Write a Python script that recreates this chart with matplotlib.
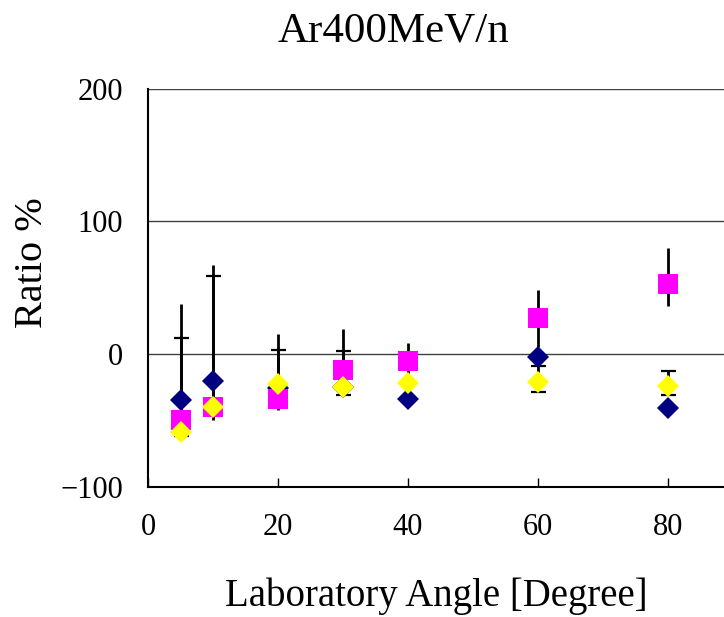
import matplotlib
matplotlib.use("Agg")
import matplotlib.pyplot as plt

plt.rcParams['font.family'] = ['Liberation Serif', 'DejaVu Serif']

# Laboratory angles [degree]
angles = [5, 10, 20, 30, 40, 60, 80]

# Ratio [%] for the three data sets
navy_vals = [-35, -20, -26, -25, -34, -2, -41]
magenta_vals = [-50, -40, -34, -12, -5, 27, 53]
yellow_vals = [-59, -40, -23, -25, -22, -21, -24]

# Asymmetric errors (minus, plus)
magenta_err_minus = [10, 10, 8, 15, 33, 22, 17]
magenta_err_plus = [88, 107, 49, 31, 13, 21, 27]
yellow_err_minus = [3, 2, 5, 6, 0, 8, 7]
yellow_err_plus = [71, 99, 26, 27, 0, 12, 11]

x_ticks = [0, 20, 40, 60, 80]
y_ticks = [-100, 0, 100, 200]

fig = plt.figure(figsize=(7.24, 6.17), dpi=100)
ax = fig.add_axes([148 / 724, 130.5 / 617, (724 - 148) / 724, (486.5 - 89) / 617])

# Error bars (drawn beneath the markers)
ax.errorbar(angles, magenta_vals, yerr=[magenta_err_minus, magenta_err_plus],
            fmt='none', ecolor='black', elinewidth=2.0, capsize=0, zorder=2)
ax.errorbar(angles, yellow_vals, yerr=[yellow_err_minus, yellow_err_plus],
            fmt='none', ecolor='black', elinewidth=2.0, capsize=5.4,
            capthick=1.6, zorder=2)

# Markers
ax.plot(angles, navy_vals, linestyle='none', marker='D', markersize=11.3,
        markerfacecolor='#000080', markeredgewidth=0, zorder=3)
ax.plot(angles, magenta_vals, linestyle='none', marker='s', markersize=14.2,
        markerfacecolor='#FF00FF', markeredgewidth=0, zorder=4)
ax.plot(angles, yellow_vals, linestyle='none', marker='D', markersize=11.3,
        markerfacecolor='#FFFF00', markeredgewidth=0, zorder=5)

ax.set_xlim(0, 88.6)
ax.set_ylim(-100, 200)
ax.set_xticks(x_ticks)
ax.set_yticks(y_ticks)
ax.set_yticklabels([str(v).replace('-', '\u2212') for v in y_ticks])
ax.set_xticklabels([str(v) for v in x_ticks])

for s in ['top', 'right']:
    ax.spines[s].set_visible(False)
for s in ['left', 'bottom']:
    ax.spines[s].set_linewidth(1.5)
    ax.spines[s].set_color('black')

ax.yaxis.grid(True, color='#404040', linewidth=1.0)
ax.set_axisbelow(True)

ax.tick_params(axis='x', direction='in', length=6.5, width=1.0,
               labelsize=22, pad=19)
ax.tick_params(axis='y', direction='in', length=0, labelsize=22, pad=18)

fig.text(393 / 724, 1 - 42 / 617, 'Ar400MeV/n', fontsize=31,
         ha='center', va='baseline')
fig.text(436 / 724, 11 / 617, 'Laboratory Angle [Degree]', fontsize=28,
         ha='center', va='baseline')
fig.text(32 / 724, 354 / 617, 'Ratio %', fontsize=29, rotation=90,
         ha='center', va='center')

fig.savefig('out.png', dpi=100)
